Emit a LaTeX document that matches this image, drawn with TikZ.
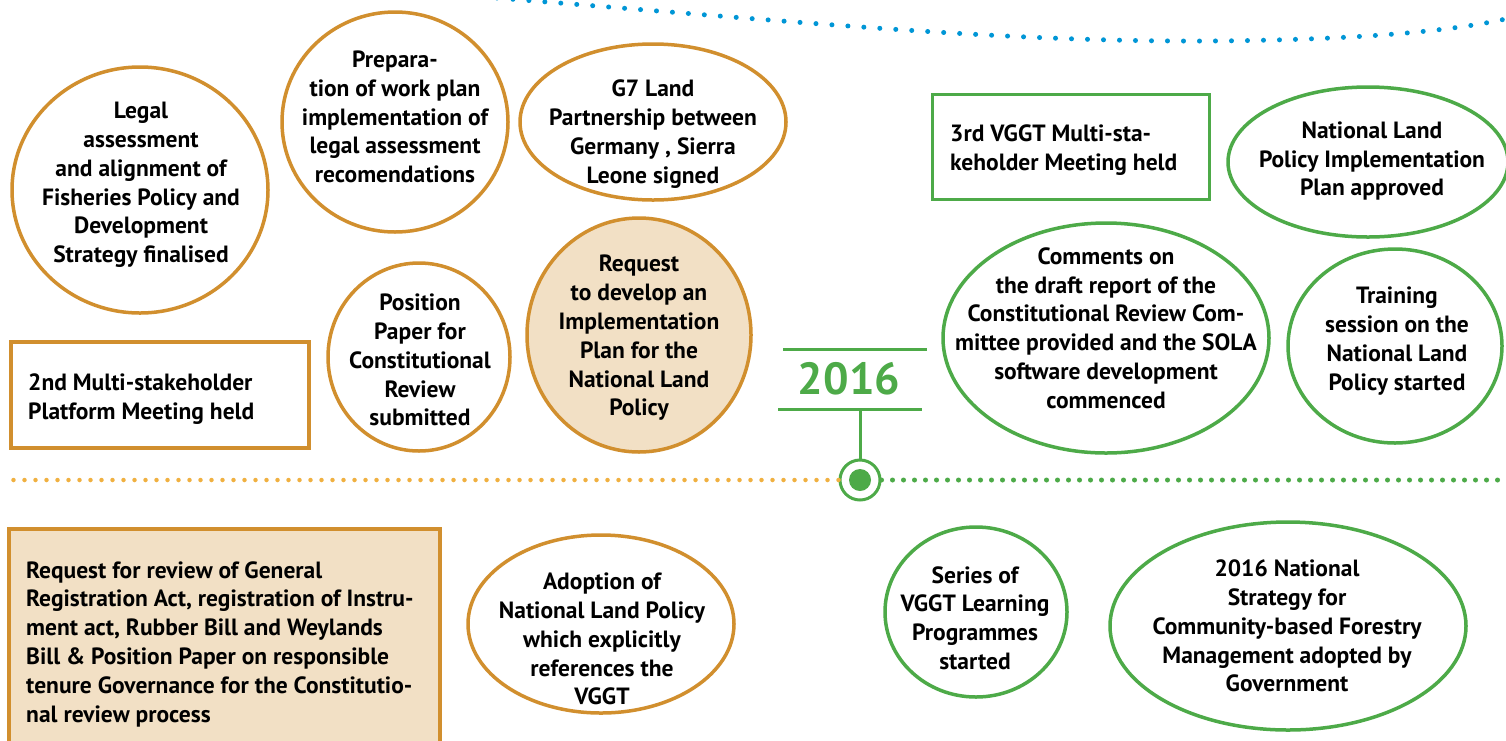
\documentclass[tikz,border=0pt]{standalone}
\usepackage{fontspec}
\setmainfont{PT Sans}
\usetikzlibrary{shapes.geometric}

\definecolor{ochre}{RGB}{209,143,46}
\definecolor{sand}{RGB}{242,224,197}
\definecolor{leaf}{RGB}{77,170,72}
\definecolor{dotorange}{RGB}{240,176,64}
\definecolor{dotblue}{RGB}{0,150,214}

\tikzset{
  evt/.style={ellipse, draw=ochre, line width=3.5pt, inner sep=0pt},
  evtg/.style={evt, draw=leaf},
  box/.style={rectangle, draw=ochre, line width=4pt, inner sep=0pt, anchor=north west},
  boxg/.style={box, draw=leaf, line width=3pt},
  txt/.style={align=center, inner sep=0pt, yshift=-3pt, font=\bfseries\fontsize{23.5}{28.8}\selectfont},
  txtl/.style={txt, align=left, anchor=west},
}

\begin{document}
\begin{tikzpicture}[x=1pt, y=-1pt]
    \useasboundingbox[fill=white] (0,0) rectangle (1506,740);

    % timeline
    \node[circle, draw=leaf, line width=3pt, minimum size=40, inner sep=0pt] (mark) at (860,480) {};
    \fill[leaf] (mark.center) circle (11);
    \draw[dotorange, line width=4.5pt, line cap=round, dash pattern=on 0pt off 11pt] (mark.west) -- (6,480);
    \draw[leaf, line width=5pt, line cap=round, dash pattern=on 0pt off 11pt] (mark.east) -- (1506,480);
    \draw[dotblue, line width=5pt, line cap=round, dash pattern=on 0pt off 16pt]
        (497,-2) .. controls (800,22) and (1000,42) .. (1210,41) .. controls (1350,40) and (1450,32) .. (1510,18);

    % year
    \node[text=leaf, inner sep=0pt, font=\bfseries\fontsize{45}{50}\selectfont] (year) at (849,379) {2016};
    \draw[leaf, line width=3pt] (783,349) -- (927,349);
    \draw[leaf, line width=3pt] (778,409) -- (922,409);
    \coordinate (stem) at (860,409);
    \draw[leaf, line width=3pt] (stem) -- (mark.north);

    % orange events
    \node[evt, minimum width=256, minimum height=246] (legal) at (140,190) {};
    \node[txt] (legal-t) at (141,182) {Legal\\assessment\\and alignment of\\Fisheries Policy and\\Development\\Strategy finalised};
    \node[evt, minimum width=226, minimum height=220] (prep) at (395,122) {};
    \node[txt] (prep-t) at (395,114) {Prepara-\\tion of work plan\\implementation of\\legal assessment\\recomendations};
    \node[evt, minimum width=266, minimum height=156] (gseven) at (653,122) {};
    \node[txt] (gseven-t) at (653,131) {G7 Land\\Partnership between\\Germany , Sierra\\Leone signed};
    \node[evt, fill=sand, minimum width=224, minimum height=234] (reqplan) at (639,335) {};
    \node[txt] (reqplan-t) at (639,335) {Request\\to develop an\\Implementation\\Plan for the\\National Land\\Policy};
    \node[evt, minimum width=182, minimum height=188] (posn) at (419,357) {};
    \node[txt] (posn-t) at (420,357) {Position\\Paper for\\Constitutional\\Review\\submitted};
    \node[evt, minimum width=266, minimum height=178] (adopt) at (601,624) {};
    \node[txt] (adopt-t) at (602,636) {Adoption of\\National Land Policy\\which explicitly\\references the\\VGGT};

    \node[box, minimum width=298, minimum height=106] (msp2) at (9,340) {};
    \node[txtl] (msp2-t) at (28,396) {2nd Multi-stakeholder\\Platform Meeting held};
    \node[box, fill=sand, minimum width=431, minimum height=230] (review) at (7,527) {};
    \node[txtl] (review-t) at (26,641) {Request for review of General\\Registration Act, registration of Instru-\\ment act, Rubber Bill and Weylands\\Bill \& Position Paper on responsible\\tenure Governance for the Constitutio-\\nal review process};

    % green events
    \node[boxg, minimum width=277, minimum height=105] (vggt3) at (931,93) {};
    \node[txtl] (vggt3-t) at (950,147) {3rd VGGT Multi-sta-\\keholder Meeting held};
    \node[evtg, minimum width=280, minimum height=150] (nlpip) at (1368,162) {};
    \node[txt] (nlpip-t) at (1372,158) {National Land\\Policy Implementation\\Plan approved};
    \node[evtg, minimum width=326, minimum height=230] (comments) at (1106,338) {};
    \node[txt] (comments-t) at (1106,325) {Comments on\\the draft report of the\\Constitutional Review Com-\\mittee provided and the SOLA\\software development\\commenced};
    \node[evtg, minimum width=214, minimum height=194] (training) at (1395,346) {};
    \node[txt] (training-t) at (1397,338) {Training\\session on the\\National Land\\Policy started};
    \node[evtg, minimum width=182, minimum height=170] (series) at (976,612) {};
    \node[txt] (series-t) at (975,615) {Series of\\VGGT Learning\\Programmes\\started};
    \node[evtg, minimum width=356, minimum height=208] (strategy) at (1288,626) {};
    \node[txt] (strategy-t) at (1287,623) {2016 National\\Strategy for\\Community-based Forestry\\Management adopted by\\Government};
\end{tikzpicture}
\end{document}
